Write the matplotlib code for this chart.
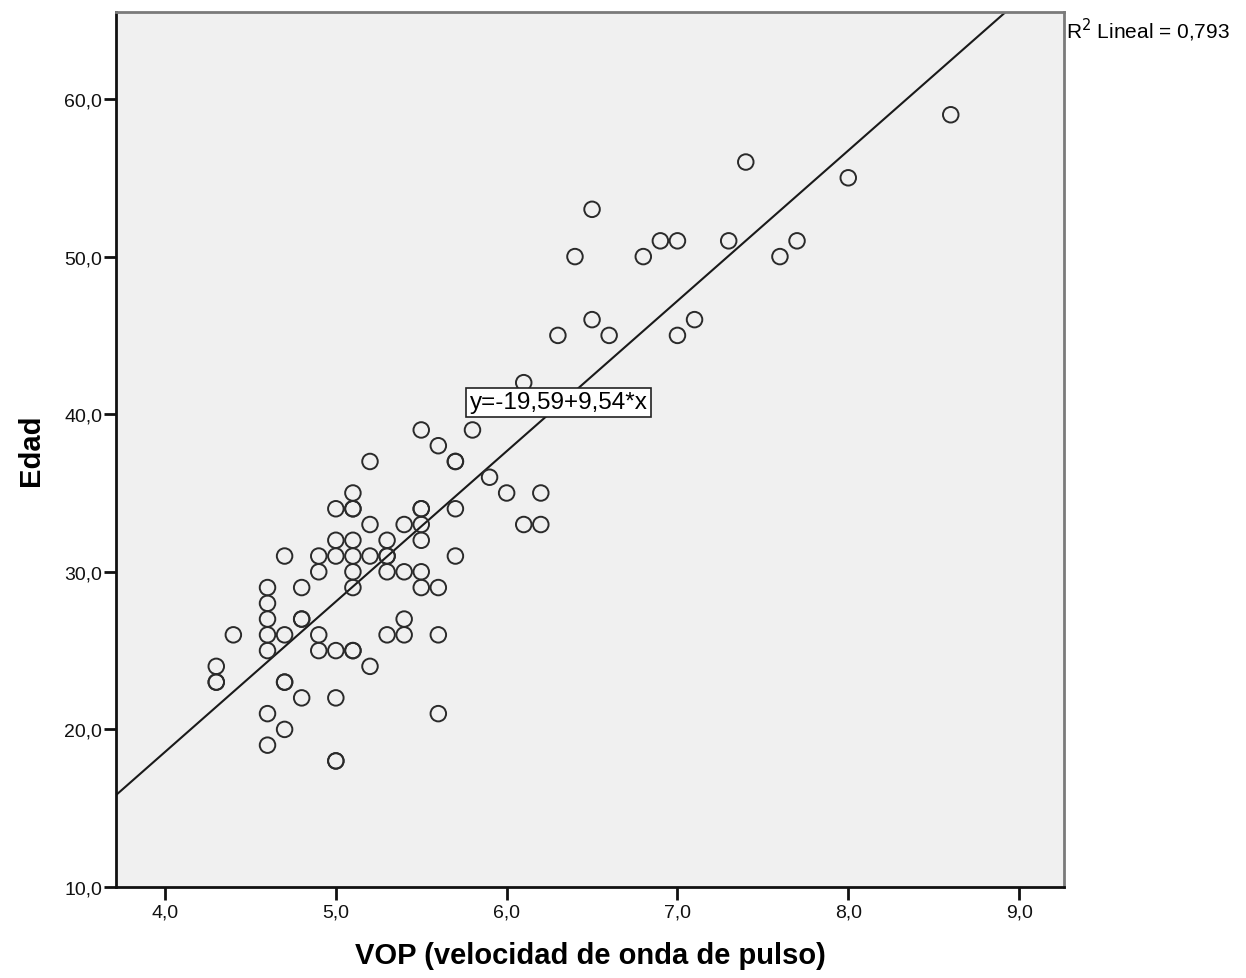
import matplotlib.pyplot as plt
import numpy as np

plt.rcParams['font.family'] = ['Liberation Sans', 'DejaVu Sans']

# VOP (m/s) and Edad (years); repeated pairs are drawn twice
vop = [8.6, 7.4, 8.0, 6.5, 6.4, 6.8, 6.9, 7.0, 7.3, 7.6, 7.7,
       6.3, 6.5, 6.6, 7.0, 7.1, 6.1, 5.8, 5.5, 5.6, 5.7, 5.7, 5.2,
       5.9, 6.0, 6.2, 6.1, 6.2,
       5.1, 5.1, 5.1, 5.0, 5.5, 5.5, 5.7,
       5.2, 5.4, 5.5,
       5.0, 5.1, 5.3, 5.5,
       4.7, 4.9, 5.0, 5.1, 5.2, 5.3, 5.3, 5.7,
       4.9, 5.1, 5.3, 5.4, 5.5,
       4.6, 4.8, 5.1, 5.5, 5.6,
       4.6,
       4.6, 4.8, 4.8, 5.4,
       4.4, 4.6, 4.7, 4.9, 5.3, 5.4, 5.6,
       4.6, 4.9, 5.0, 5.1, 5.1,
       4.3, 5.2,
       4.3, 4.3, 4.7, 4.7,
       4.8, 5.0,
       4.6, 5.6,
       4.7,
       4.6,
       5.0, 5.0]
edad = [59, 56, 55, 53, 50, 50, 51, 51, 51, 50, 51,
        45, 46, 45, 45, 46, 42, 39, 39, 38, 37, 37, 37,
        36, 35, 35, 33, 33,
        35, 34, 34, 34, 34, 34, 34,
        33, 33, 33,
        32, 32, 32, 32,
        31, 31, 31, 31, 31, 31, 31, 31,
        30, 30, 30, 30, 30,
        29, 29, 29, 29, 29,
        28,
        27, 27, 27, 27,
        26, 26, 26, 26, 26, 26, 26,
        25, 25, 25, 25, 25,
        24, 24,
        23, 23, 23, 23,
        22, 22,
        21, 21,
        20,
        19,
        18, 18]

fit_a, fit_b = -19.59, 9.54
r2 = 0.793

xticks = [4.0, 5.0, 6.0, 7.0, 8.0, 9.0]
yticks = [10.0, 20.0, 30.0, 40.0, 50.0, 60.0]


def coma(v):
    return f"{v:.1f}".replace('.', ',')


fig = plt.figure(figsize=(12.46, 9.79), dpi=100)
ax = fig.add_axes([116 / 1246, 1 - 888 / 979, (1064 - 116) / 1246, (888 - 13) / 979])
ax.set_facecolor('#f0f0f0')

ax.set_xlim(3.713, 9.263)
ax.set_ylim(10.0, 65.52)

ax.scatter(vop, edad, s=125, facecolors='none', edgecolors='#2a2a2a',
           linewidths=1.4, zorder=3)

# fitted line across the whole plot
xl = np.array(ax.get_xlim())
ax.plot(xl, fit_a + fit_b * xl, color='#1a1a1a', linewidth=1.5, zorder=2)

eq = f"y={fit_a:.2f}+{fit_b:.2f}*x".replace('.', ',')
ax.text(5.785, 40.76, eq, fontsize=17.5, va='center', ha='left', zorder=5,
        bbox=dict(boxstyle='square,pad=0.15', facecolor='white',
                  edgecolor='#222222', linewidth=1.2))

fig.text(1066 / 1246, 1 - 30 / 979, f"R$^2$ Lineal = {r2:.3f}".replace('.', ','),
         fontsize=15, va='center', ha='left')

ax.set_xticks(xticks)
ax.set_xticklabels([coma(v) for v in xticks])
ax.set_yticks(yticks)
ax.set_yticklabels([coma(v) for v in yticks])
ax.tick_params(direction='out', length=9, width=2, labelsize=14, colors='#111111')
ax.tick_params(axis='x', pad=3)
ax.tick_params(axis='y', pad=1)

for side in ['left', 'bottom']:
    ax.spines[side].set_color('#111111')
    ax.spines[side].set_linewidth(2)
for side in ['top', 'right']:
    ax.spines[side].set_color('#7a7a7a')
    ax.spines[side].set_linewidth(2)

ax.set_xlabel("VOP (velocidad de onda de pulso)", fontsize=21, fontweight='bold')
ax.set_ylabel("Edad", fontsize=21, fontweight='bold')
ax.xaxis.set_label_coords(0.5, -(956 - 888) / 875, transform=ax.transAxes)
ax.xaxis.label.set_va('center')
ax.yaxis.set_label_coords(-(116 - 31) / 948, 0.5, transform=ax.transAxes)
ax.yaxis.label.set_va('center')

fig.savefig("out.png", dpi=100)
